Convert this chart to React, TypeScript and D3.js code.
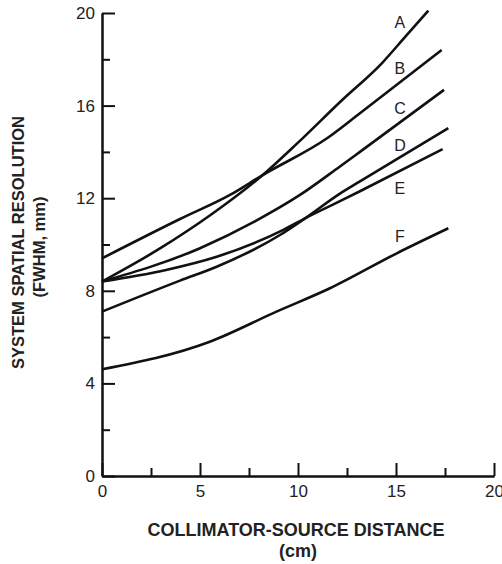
import { useEffect, useRef } from "react";
import * as d3 from "d3";

// collimator-source distance (cm) and resolution (mm)
const seriesNames = ["A", "B", "C", "D", "E", "F"];
const distA = [0, 3, 5.5, 8.2, 10, 12.2, 14.3, 15.5, 16.65];
const resA = [8.4, 9.85, 11.25, 13.0, 14.4, 16.2, 17.85, 19.0, 20.1];
const distB = [0, 3.98, 6.53, 8.2, 11.5, 13.16, 17.33];
const resB = [9.4, 11.1, 12.14, 13.0, 14.6, 15.67, 18.4];
const distC = [0, 5.0, 7.8, 10.1, 12.14, 13.16, 17.45];
const resC = [8.4, 9.84, 11.0, 12.14, 13.37, 14.0, 16.68];
const distD = [0, 3.98, 5.85, 9.08, 10.36, 12.14, 13.16, 17.67];
const resD = [7.1, 8.44, 9.04, 10.41, 11.13, 12.2, 12.73, 15.03];
const distE = [0, 3.27, 5.85, 9.25, 10.36, 12.14, 13.16, 17.38];
const resE = [8.4, 8.9, 9.47, 10.63, 11.13, 11.87, 12.3, 14.12];
const distF = [0, 5.5, 8.9, 11.63, 15.04, 17.67];
const resF = [4.61, 5.8, 7.1, 8.11, 9.62, 10.7];

// where the curve letters sit (data units)
const labelDist = 15.2;
const labelRes = [19.58, 17.61, 15.88, 14.3, 12.43, 10.34];

const xTicks = [0, 5, 10, 15, 20];
const xMinor = [2.5, 7.5, 12.5, 17.5];
const yTicks = [0, 4, 8, 12, 16, 20];
const yMinor = [2, 6, 10, 14, 18];

const W = 502;
const H = 564;
const FONT = "'Liberation Sans', Arial, Helvetica, sans-serif";

function ResolutionChart() {
  const ref = useRef<SVGSVGElement>(null);

  useEffect(() => {
    const svg = d3.select(ref.current);
    svg.selectAll("*").remove();

    const x = d3.scaleLinear().domain([0, 20]).range([102, 494]);
    const y = d3.scaleLinear().domain([0, 20]).range([476, 13]);

    const dists = [distA, distB, distC, distD, distE, distF];
    const vals = [resA, resB, resC, resD, resE, resF];
    const series = seriesNames.map((name, i) => ({
      name,
      pts: dists[i].map((d, j) => [d, vals[i][j]] as [number, number]),
    }));

    // axes, ticks pointing into the plot
    const styleAxis = (g: any) => {
      g.select(".domain").attr("stroke", "#111").attr("stroke-width", 2);
      g.selectAll(".tick line").attr("stroke", "#111").attr("stroke-width", 2);
      g.selectAll("text")
        .attr("font-family", FONT)
        .attr("font-size", 17)
        .attr("fill", "#222");
    };

    svg.append("g")
      .attr("transform", `translate(0,${y(0)})`)
      .call(d3.axisBottom(x).tickValues(xMinor).tickSize(-8).tickSizeOuter(0).tickFormat(() => ""))
      .call(styleAxis);
    svg.append("g")
      .attr("transform", `translate(${x(0)},0)`)
      .call(d3.axisLeft(y).tickValues(yMinor).tickSize(-8).tickSizeOuter(0).tickFormat(() => ""))
      .call(styleAxis);

    const xAxis = svg.append("g")
      .attr("transform", `translate(0,${y(0)})`)
      .call(d3.axisBottom(x).tickValues(xTicks).tickSize(-13).tickSizeOuter(0).tickPadding(9).tickFormat(d3.format("d")))
      .call(styleAxis);
    xAxis.selectAll("text").attr("dy", "0.71em");

    svg.append("g")
      .attr("transform", `translate(${x(0)},0)`)
      .call(d3.axisLeft(y).tickValues(yTicks).tickSize(-13).tickSizeOuter(0).tickPadding(7).tickFormat(d3.format("d")))
      .call(styleAxis);

    // curves
    const line = d3.line<[number, number]>()
      .x((d) => x(d[0]))
      .y((d) => y(d[1]))
      .curve(d3.curveMonotoneX);

    svg.append("g")
      .selectAll("path")
      .data(series)
      .join("path")
      .attr("d", (d) => line(d.pts))
      .attr("fill", "none")
      .attr("stroke", "#111")
      .attr("stroke-width", 2.6)
      .attr("stroke-linejoin", "round");

    svg.append("g")
      .selectAll("text")
      .data(series)
      .join("text")
      .attr("x", x(labelDist))
      .attr("y", (_, i) => y(labelRes[i]))
      .attr("dy", "0.36em")
      .attr("text-anchor", "middle")
      .attr("font-family", FONT)
      .attr("font-size", 16)
      .attr("fill", "#222")
      .text((d) => d.name);

    // axis titles
    const xt = svg.append("text")
      .attr("text-anchor", "middle")
      .attr("font-family", FONT)
      .attr("font-weight", "bold")
      .attr("font-size", 18)
      .attr("fill", "#222");
    xt.append("tspan").attr("x", 296).attr("y", 536).text("COLLIMATOR-SOURCE DISTANCE");
    xt.append("tspan").attr("x", 298).attr("y", 557).text("(cm)");

    const yt = svg.append("text")
      .attr("transform", "rotate(-90)")
      .attr("text-anchor", "middle")
      .attr("font-family", FONT)
      .attr("font-weight", "bold")
      .attr("font-size", 16.5)
      .attr("fill", "#222");
    yt.append("tspan").attr("x", -242.5).attr("y", 24).text("SYSTEM SPATIAL RESOLUTION");
    yt.append("tspan").attr("x", -247).attr("y", 45).text("(FWHM, mm)");
  }, []);

  return <svg ref={ref} width={W} height={H} style={{ display: "block", background: "#fff" }} />;
}

export default function App() {
  return (
    <div style={{ position: "absolute", left: 0, top: 0 }}>
      <ResolutionChart />
    </div>
  );
}
